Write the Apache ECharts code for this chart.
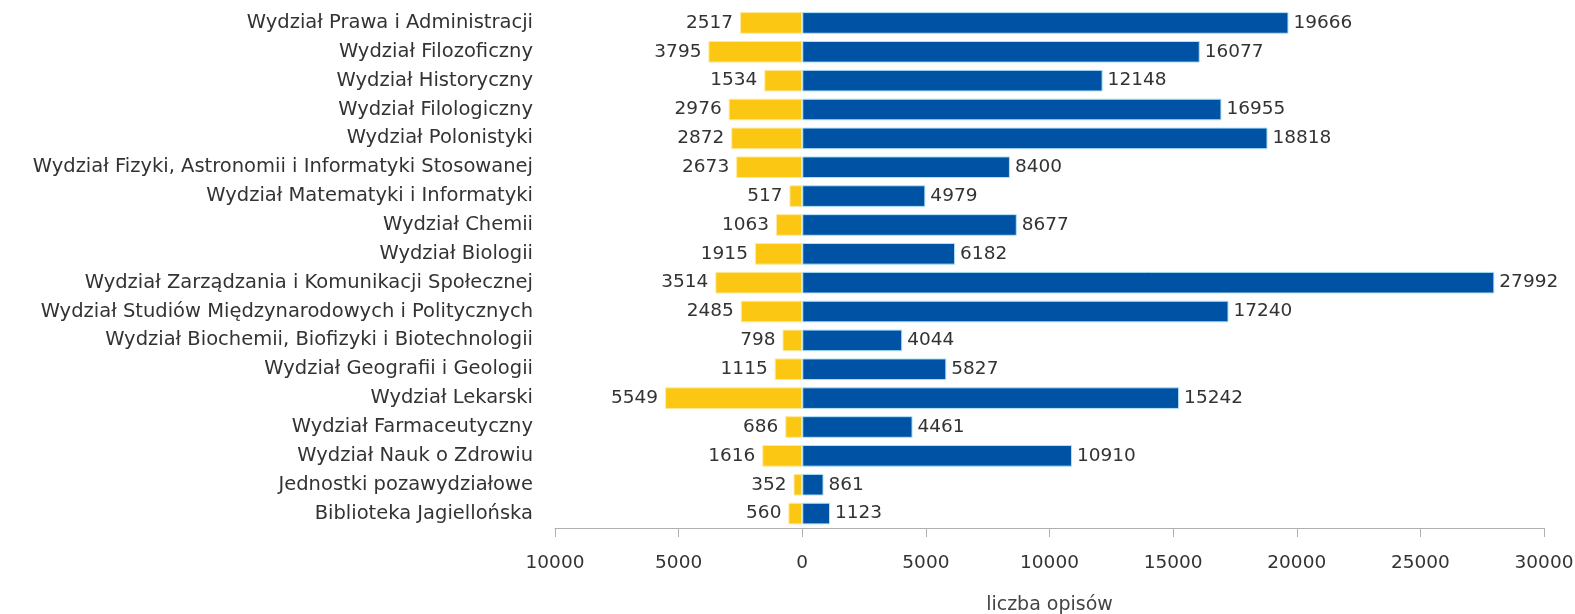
<!DOCTYPE html>
<html>
<head>
<meta charset="utf-8">
<script src="https://cdn.jsdelivr.net/npm/echarts@6/dist/echarts.min.js"></script>
<style>
html,body{margin:0;padding:0;background:#fff;}
#chart{width:1575px;height:614px;}
</style>
</head>
<body>
<div id="chart"></div>
<script>
const categories = [
  "Wydział Prawa i Administracji",
  "Wydział Filozoficzny",
  "Wydział Historyczny",
  "Wydział Filologiczny",
  "Wydział Polonistyki",
  "Wydział Fizyki, Astronomii i Informatyki Stosowanej",
  "Wydział Matematyki i Informatyki",
  "Wydział Chemii",
  "Wydział Biologii",
  "Wydział Zarządzania i Komunikacji Społecznej",
  "Wydział Studiów Międzynarodowych i Politycznych",
  "Wydział Biochemii, Biofizyki i Biotechnologii",
  "Wydział Geografii i Geologii",
  "Wydział Lekarski",
  "Wydział Farmaceutyczny",
  "Wydział Nauk o Zdrowiu",
  "Jednostki pozawydziałowe",
  "Biblioteka Jagiellońska"
];
const yellowValues = [2517, 3795, 1534, 2976, 2872, 2673, 517, 1063, 1915, 3514, 2485, 798, 1115, 5549, 686, 1616, 352, 560];
const blueValues = [19666, 16077, 12148, 16955, 18818, 8400, 4979, 8677, 6182, 27992, 17240, 4044, 5827, 15242, 4461, 10910, 861, 1123];
const axisName = "liczba opisów";

const FONT = "DejaVu Sans";
const chart = echarts.init(document.getElementById('chart'));
chart.setOption({
  animation: false,
  backgroundColor: '#ffffff',
  grid: {left: 555, right: 31, top: 8.5, bottom: 86, containLabel: false, outerBoundsMode: 'none'},
  xAxis: {
    type: 'value',
    min: -10000, max: 30000, interval: 5000,
    name: axisName, nameLocation: 'middle', nameGap: 68,
    nameTextStyle: {fontFamily: FONT, fontSize: 19, color: '#444'},
    axisLine: {show: true, lineStyle: {color: '#b0b0b0', width: 1}},
    axisTick: {show: true, length: 9, lineStyle: {color: '#b0b0b0'}},
    splitLine: {show: false},
    axisLabel: {fontFamily: FONT, fontSize: 18.5, color: '#333', margin: 26,
      formatter: v => String(Math.abs(v))}
  },
  yAxis: {
    type: 'category', data: categories, inverse: true,
    axisLine: {show: false}, axisTick: {show: false}, splitLine: {show: false},
    axisLabel: {fontFamily: FONT, fontSize: 19.5, color: '#333', margin: 22}
  },
  series: [
    {
      type: 'bar', name: 'yellow',
      data: yellowValues.map(v => -v),
      barGap: '-100%', barCategoryGap: '25%',
      itemStyle: {color: '#fcc712', borderColor: '#fde9a0', borderWidth: 1},
      label: {show: true, position: 'left', distance: 7, fontFamily: FONT, fontSize: 18.5, color: '#333',
        formatter: p => String(Math.abs(p.value))}
    },
    {
      type: 'bar', name: 'blue',
      data: blueValues,
      barGap: '-100%', barCategoryGap: '25%',
      itemStyle: {color: '#0053a4', borderColor: '#b0e2f7', borderWidth: 1},
      label: {show: true, position: 'right', distance: 5, fontFamily: FONT, fontSize: 18.5, color: '#333'}
    }
  ]
});
</script>
</body>
</html>
